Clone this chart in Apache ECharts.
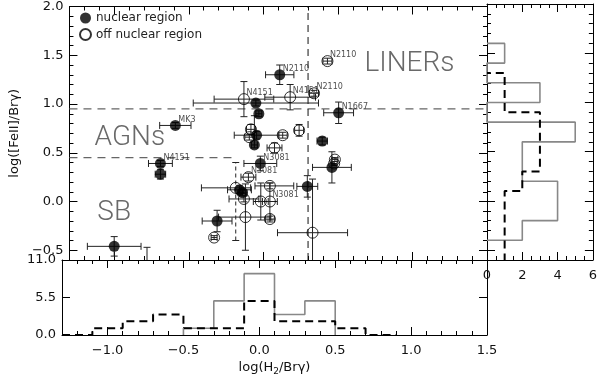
<!DOCTYPE html>
<html>
<head>
<meta charset="utf-8">
<script src="https://cdn.jsdelivr.net/npm/echarts@6/dist/echarts.min.js"></script>
<style>
  html, body { margin: 0; padding: 0; background: #fff; }
  #chart { width: 600px; height: 377px; }
</style>
</head>
<body>
<div id="chart"></div>
<script>
// rows: [x, y, xerrLow, xerrHigh, yerrLow, yerrHigh, label, dashedYerr]
const nuclear = [
  [-0.59, 0.78, 0.105, 0.105, 0.03, 0.03, 'MK3'],
  [-0.69, 0.39, 0.08, 0.08, 0.03, 0.03, 'N4151'],
  [-0.69, 0.28, 0.035, 0.035, 0.05, 0.05, ''],
  [-1.0, -0.46, 0.18, 0.18, 0.1, 0.1, ''],
  [0.11, 1.30, 0.095, 0.095, 0.1, 0.1, 'N2110'],
  [-0.05, 1.01, 0.42, 0.42, 0.03, 0.03, ''],
  [-0.03, 0.90, 0.02, 0.02, 0.03, 0.03, ''],
  [0.505, 0.91, 0.1, 0.1, 0.11, 0.11, 'N1667'],
  [0.395, 0.62, 0.035, 0.035, 0.04, 0.04, ''],
  [0.46, 0.35, 0.13, 0.13, 0.16, 0.16, ''],
  [0.295, 0.155, 0.07, 0.07, 0.11, 0.11, ''],
  [-0.045, 0.68, 0.15, 0.15, 0.04, 0.04, ''],
  [-0.06, 0.58, 0.02, 0.02, 0.03, 0.3, ''],
  [-0.02, 0.39, 0.11, 0.11, 0.075, 0.075, 'N3081'],
  [-0.16, 0.12, 0.08, 0.08, 0.04, 0.04, ''],
  [-0.14, 0.09, 0.03, 0.03, 0.03, 0.03, ''],
  [-0.31, -0.20, 0.1, 0.1, 0.11, 0.11, '']
];
const offNuclear = [
  [-0.13, 1.05, 0.2, 0.2, 0.18, 0.18, 'N4151'],
  [0.18, 1.07, 0.17, 0.17, 0.13, 0.13, 'N4151'],
  [0.34, 1.11, 0.03, 0.03, 0.03, 0.03, 'N2110'],
  [0.43, 1.44, 0.03, 0.03, 0.03, 0.03, 'N2110'],
  [0.24, 0.73, 0.03, 0.03, 0.06, 0.06, ''],
  [0.48, 0.43, 0.02, 0.02, 0.02, 0.02, ''],
  [0.475, 0.39, 0.02, 0.02, 0.02, 0.02, ''],
  [0.33, -0.32, 0.235, 0.235, 0.55, 0.55, ''],
  [-0.083, 0.74, 0.03, 0.03, 0.05, 0.05, ''],
  [-0.094, 0.66, 0.03, 0.03, 0.03, 0.03, ''],
  [0.13, 0.68, 0.03, 0.03, 0.03, 0.03, ''],
  [0.075, 0.55, 0.05, 0.05, 0.05, 0.05, ''],
  [-0.10, 0.25, 0.05, 0.05, 0.04, 0.04, 'N3081'],
  [-0.185, 0.14, 0.23, 0.1, 0.54, 0.26, '', 1],
  [0.044, 0.16, 0.1, 0.16, 0.03, 0.03, ''],
  [-0.13, 0.026, 0.1, 0.1, 0.03, 0.03, ''],
  [-0.017, 0.0, 0.05, 0.05, 0.19, 0.19, ''],
  [0.044, 0.0, 0.05, 0.05, 0.19, 0.19, 'N3081'],
  [-0.12, -0.16, 0.18, 0.17, 0.34, 0.34, ''],
  [0.044, -0.18, 0.03, 0.03, 0.03, 0.03, ''],
  [-0.33, -0.37, 0.02, 0.02, 0.02, 0.02, ''],
  [-0.78, -0.75, 0.03, 0.03, 0.28, 0.28, '']
];

// dividing lines: [x0, y0, x1, y1]
const dividers = [
  [-1.3, 0.95, 1.5, 0.95],
  [-1.3, 0.45, -0.2, 0.45],
  [0.3, -0.6, 0.3, 2.0]
];
const regionLabels = [
  ['LINERs', 0.98, 1.41],
  ['AGNs', -0.895, 0.65],
  ['SB', -1.0, -0.12]
];

// histogram of log([FeII]/Brγ) (right panel)
const feSolidStart = -0.4;
const feSolidCounts = [2, 4, 4, 2, 2, 5, 0, 3, 0, 1];
const feDashStart = -0.7;
const feDashCounts = [1, 1, 1, 1, 2, 3, 3, 3, 1, 1];
// histogram of log(H2/Brγ) (bottom panel)
const h2SolidStart = -0.5;
const h2SolidCounts = [1, 5, 9, 3, 5];
const h2DashStart = -1.3;
const h2DashCounts = [0, 1, 2, 3, 1, 1, 5, 2, 2, 1, 0];
const binWidth = 0.2;

const xTicks = [-1.0, -0.5, 0.0, 0.5, 1.0, 1.5];
const yTicks = [-0.5, 0.0, 0.5, 1.0, 1.5, 2.0];
const countTicks = [0, 2, 4, 6];
const h2CountTicks = [0, 5.5, 11];

const font = 'DejaVu Sans';
const fmt1 = v => (v < 0 ? '\u2212' : '') + Math.abs(v).toFixed(1);

function edge(dir, grid, pos, min, max, step, majors, labels, formatter, extra) {
  const minor = {
    gridIndex: grid, type: 'value', position: pos, min: min, max: max, interval: step,
    axisLine: { show: true, onZero: false, lineStyle: { color: '#000', width: 1 } },
    splitLine: { show: false },
    axisTick: { show: true, inside: true, length: 4, lineStyle: { color: '#000' } },
    axisLabel: { show: false }
  };
  const major = Object.assign({
    gridIndex: grid, type: 'value', position: pos, min: min, max: max,
    axisLine: { show: false, onZero: false }, splitLine: { show: false },
    axisTick: { show: true, inside: true, length: 8, customValues: majors, lineStyle: { color: '#000' } },
    axisLabel: labels ? {
      show: true, customValues: labels, formatter: formatter, margin: dir === 'x' ? 9 : 6,
      fontFamily: font, fontSize: 13, color: '#111', showMinLabel: true, showMaxLabel: true
    } : { show: false }
  }, extra || {});
  return [minor, major];
}

function vSteps(start, counts) {
  const pts = [[0, start]];
  counts.forEach((c, i) => {
    pts.push([c, start + i * binWidth], [c, start + (i + 1) * binWidth]);
  });
  pts.push([0, start + counts.length * binWidth]);
  return pts;
}
function hSteps(start, counts) {
  const pts = [[start, 0]];
  counts.forEach((c, i) => {
    pts.push([start + i * binWidth, c], [start + (i + 1) * binWidth, c]);
  });
  pts.push([start + counts.length * binWidth, 0]);
  return pts;
}

const xAxes = [].concat(
  edge('x', 0, 'bottom', -1.3, 1.5, 0.1, xTicks),
  edge('x', 0, 'top', -1.3, 1.5, 0.1, xTicks),
  edge('x', 1, 'bottom', 0, 6, 0.5, countTicks, countTicks, v => String(v)),
  edge('x', 1, 'top', 0, 6, 0.5, countTicks),
  edge('x', 2, 'bottom', -1.3, 1.5, 0.1, xTicks, xTicks, fmt1, {
    name: 'log(H{s|2}/Brγ)', nameLocation: 'middle', nameGap: 24,
    nameTextStyle: { fontFamily: font, fontSize: 13, color: '#111',
      rich: { s: { fontFamily: font, fontSize: 9, verticalAlign: 'bottom', padding: [8, 0, 0, 0] } } }
  }),
  edge('x', 2, 'top', -1.3, 1.5, 0.1, xTicks)
);
const yAxes = [].concat(
  edge('y', 0, 'left', -0.6, 2.0, 0.1, yTicks, yTicks, fmt1, {
    name: 'log([FeII]/Brγ)', nameLocation: 'middle', nameGap: 46, nameRotate: 90,
    nameTextStyle: { fontFamily: font, fontSize: 13, color: '#111' }
  }),
  edge('y', 0, 'right', -0.6, 2.0, 0.1, yTicks),
  edge('y', 1, 'left', -0.6, 2.0, 0.1, yTicks),
  edge('y', 1, 'right', -0.6, 2.0, 0.1, yTicks),
  edge('y', 2, 'left', 0, 11, 5.5, h2CountTicks, h2CountTicks, fmt1),
  edge('y', 2, 'right', 0, 11, 5.5, h2CountTicks)
);

function errRender(params, api) {
  const x = api.value(0), y = api.value(1);
  const l = api.coord([x - api.value(2), y]);
  const r = api.coord([x + api.value(3), y]);
  const b = api.coord([x, y - api.value(4)]);
  const t = api.coord([x, y + api.value(5)]);
  const cap = 3.5;
  const base = { stroke: '#222', lineWidth: 1, fill: null };
  const dashedY = api.value(6) === 1;
  const seg = (x1, y1, x2, y2, dash) => ({
    type: 'line', shape: { x1: x1, y1: y1, x2: x2, y2: y2 },
    style: Object.assign({}, base, dash ? { lineDash: [4, 3] } : {})
  });
  return {
    type: 'group',
    children: [
      seg(l[0], l[1], r[0], r[1]),
      seg(l[0], l[1] - cap, l[0], l[1] + cap),
      seg(r[0], r[1] - cap, r[0], r[1] + cap),
      seg(b[0], b[1], t[0], t[1], dashedY),
      seg(b[0] - cap, b[1], b[0] + cap, b[1]),
      seg(t[0] - cap, t[1], t[0] + cap, t[1])
    ]
  };
}

const errData = rows => rows.map(r => [r[0], r[1], r[2], r[3], r[4], r[5], r[7] ? 1 : 0]);
const ptData = rows => rows.map(r => ({ value: [r[0], r[1]], name: r[6] }));
const ptLabel = {
  show: true, formatter: '{b}', position: [8.5, -0.5], align: 'left', verticalAlign: 'middle',
  fontFamily: font, fontSize: 8, color: '#222'
};

const series = [
  { type: 'custom', name: 'errN', xAxisIndex: 0, yAxisIndex: 0, renderItem: errRender,
    data: errData(nuclear), encode: { x: 0, y: 1 }, clip: true, silent: true, z: 3 },
  { type: 'custom', name: 'errO', xAxisIndex: 0, yAxisIndex: 0, renderItem: errRender,
    data: errData(offNuclear), encode: { x: 0, y: 1 }, clip: true, silent: true, z: 3 },
  { type: 'scatter', name: 'nuclear region', xAxisIndex: 0, yAxisIndex: 0,
    symbol: 'circle', symbolSize: 11, itemStyle: { color: '#000' },
    data: ptData(nuclear), label: ptLabel, z: 4 },
  { type: 'scatter', name: 'off nuclear region', xAxisIndex: 0, yAxisIndex: 0,
    symbol: 'circle', symbolSize: 11,
    itemStyle: { color: 'rgba(255,255,255,0)', borderColor: '#000', borderWidth: 1 },
    data: ptData(offNuclear), label: ptLabel, z: 4 }
];

dividers.forEach((d, i) => {
  series.push({
    type: 'line', xAxisIndex: 0, yAxisIndex: 0, showSymbol: false, silent: true,
    data: [[d[0], d[1]], [d[2], d[3]]],
    lineStyle: i < 2 ? { color: '#666', width: 1.2, type: [8, 6] } : { color: '#111', width: 1, type: [7, 5] },
    z: 2
  });
});

series.push({
  type: 'scatter', xAxisIndex: 0, yAxisIndex: 0, symbolSize: 0, silent: true,
  data: regionLabels.map(r => ({ value: [r[1], r[2]], name: r[0] })),
  label: { show: true, position: 'inside', formatter: '{b}', fontFamily: 'Roboto', fontWeight: 300,
    fontSize: 28, color: '#444' }
});

series.push(
  { type: 'line', xAxisIndex: 4, yAxisIndex: 4, showSymbol: false, silent: true, clip: true,
    data: vSteps(feSolidStart, feSolidCounts), lineStyle: { color: '#888', width: 1.6 } },
  { type: 'line', xAxisIndex: 4, yAxisIndex: 4, showSymbol: false, silent: true, clip: true,
    data: vSteps(feDashStart, feDashCounts), lineStyle: { color: '#000', width: 2, type: [8, 5] } },
  { type: 'line', xAxisIndex: 8, yAxisIndex: 8, showSymbol: false, silent: true, clip: true,
    data: hSteps(h2SolidStart, h2SolidCounts), lineStyle: { color: '#888', width: 1.6 } },
  { type: 'line', xAxisIndex: 8, yAxisIndex: 8, showSymbol: false, silent: true, clip: true,
    data: hSteps(h2DashStart, h2DashCounts), lineStyle: { color: '#000', width: 2, type: [8, 5] } }
);

const chart = echarts.init(document.getElementById('chart'));
chart.setOption({
  animation: false,
  backgroundColor: '#fff',
  grid: [
    { left: 62, top: 4, width: 425, height: 256 },
    { left: 487, top: 4, width: 110, height: 256 },
    { left: 62, top: 260, width: 425, height: 76 }
  ],
  legend: {
    data: ['nuclear region', 'off nuclear region'],
    orient: 'vertical', left: 74, top: 7, itemWidth: 11, itemHeight: 11, itemGap: 4,
    textStyle: { fontFamily: font, fontSize: 12, color: '#222' },
    selectedMode: false
  },
  xAxis: xAxes,
  yAxis: yAxes,
  series: series
});
</script>
</body>
</html>
